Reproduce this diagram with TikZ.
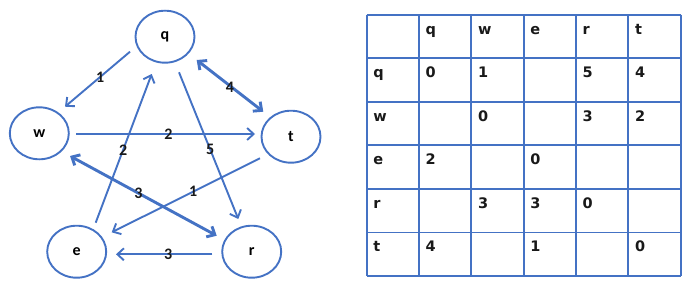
\documentclass[tikz,border=0pt]{standalone}
\usepackage{fontspec}
\setmainfont{Carlito}
\newfontfamily\tabfont{DejaVu Sans}
\usetikzlibrary{shapes.geometric,arrows.meta,calc}
\definecolor{edgeblue}{HTML}{4472C4}
\begin{document}
\begin{tikzpicture}[x=1pt,y=-1pt,
  vert/.style={draw=edgeblue,line width=1.9pt,ellipse,minimum width=59pt,minimum height=52pt,inner sep=0pt,font=\fontsize{16}{16}\selectfont\bfseries},
  conn/.style={draw=edgeblue,line width=1.9pt,-{Straight Barb[length=6.5pt,width=12pt]}},
  bothconn/.style={draw=edgeblue,line width=2.9pt,{Straight Barb[length=6.5pt,width=12pt]}-{Straight Barb[length=6.5pt,width=12pt]}},
  wt/.style={font=\fontsize{16}{16}\selectfont\bfseries,inner sep=0pt,text=black!90},
  grid/.style={draw=edgeblue,line width=1.9pt},
  cell/.style={anchor=base west,inner sep=0pt,font=\tabfont\fontsize{14.5}{15}\selectfont\bfseries,text=black!90}
]
\useasboundingbox (0,0) rectangle (695,289);
% vertices
\node[vert] (q) at (165,36.7) {q};
\node[vert] (w) at (39.3,133.3) {w};
\node[vert] (t) at (291,136.7) {t};
\node[vert] (e) at (76.7,251.7) {e};
\node[vert] (r) at (251.7,251.7) {r};
% edges
\draw[conn] ($(q)+(-35,15)$) -- node[wt,pos=0.46] (l1) {1} ($(w)+(25.7,-26.6)$);
\draw[conn] ($(e)+(19,-29)$) -- node[wt,pos=0.49] (l2) {2} ($(q)+(-13.3,37.3)$);
\draw[conn] ($(q)+(14,35.6)$) -- node[wt,pos=0.525] (l3) {5} ($(r)+(-13.4,-32.7)$);
\draw[bothconn] ($(q)+(31.7,23.3)$) -- node[wt,pos=0.5,yshift=-1pt] (l4) {4} ($(t)+(-27.7,-25)$);
\draw[conn] ($(w)+(36.7,0.7)$) -- node[wt,pos=0.516] (l5) {2} ($(t)+(-36,-2.7)$);
\draw[bothconn] ($(w)+(30.7,22.7)$) -- node[wt,pos=0.466] (l6) {3} ($(r)+(-35,-16)$);
\draw[conn] ($(t)+(-31,21.6)$) -- node[wt,pos=0.45] (l7) {1} ($(e)+(35,-19.4)$);
\draw[conn] ($(r)+(-39.4,2.6)$) -- node[wt,pos=0.457] (l8) {3} ($(e)+(39.3,2.6)$);
% table
\foreach \i in {0,...,6} {
  \draw[grid] ({366.7+52.33*\i},14.7) -- ({366.7+52.33*\i},276);
  \draw[grid] (366.7,{14.7+43.55*\i}) -- (680.7,{14.7+43.55*\i});
}
\foreach \txt [count=\c from 1] in {q,w,e,r,t}
  \node[cell] (h\c) at ({366.7+52.33*\c+6.5},{14.7+19.5}) {\txt};
\foreach \txt [count=\c from 1] in {q,w,e,r,t}
  \node[cell] (v\c) at ({366.7+6.5},{14.7+43.55*\c+19.5}) {\txt};
% matrix entries: row, col, value
\foreach \rr/\cc/\val in {1/1/0,1/2/1,1/4/5,1/5/4,
                          2/2/0,2/4/3,2/5/2,
                          3/1/2,3/3/0,
                          4/2/3,4/3/3,4/4/0,
                          5/1/4,5/3/1,5/5/0}
  \node[cell] (m\rr\cc) at ({366.7+52.33*\cc+6.5},{14.7+43.55*\rr+19.5}) {\val};
\end{tikzpicture}
\end{document}
